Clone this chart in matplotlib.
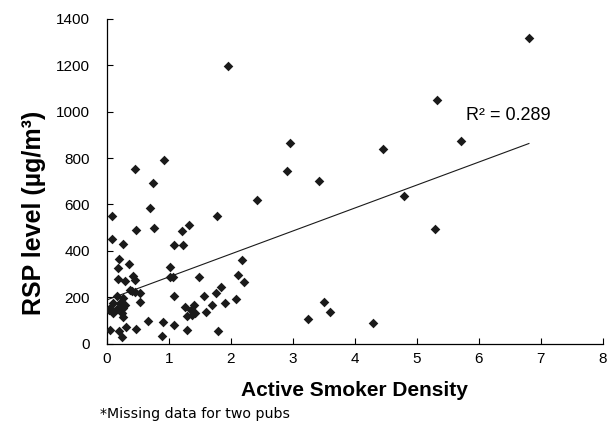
import matplotlib
matplotlib.use("Agg")
import matplotlib.pyplot as plt
import numpy as np

# Active smoker density (x) and RSP level (y)
x_density = [
    6.81, 5.33, 5.71, 4.46, 2.96, 2.90, 3.43, 4.80, 5.30, 2.42, 3.50, 3.60, 3.24, 4.30,
    1.96, 0.93, 0.46, 0.74, 0.70, 0.08, 1.78, 0.77, 0.47, 1.33, 1.21, 0.09, 0.26, 1.09,
    1.23, 0.20, 2.18, 0.18, 0.36, 1.02, 0.19, 0.29, 0.43, 0.46, 1.02, 1.07, 1.49, 2.11,
    2.21, 1.85, 0.38, 0.46, 0.54, 1.09, 1.57, 1.76, 2.08, 0.53, 1.91, 1.70, 1.41, 1.27,
    1.60, 1.42, 1.30, 1.36, 1.38, 0.66, 0.91, 1.09, 1.30, 1.79, 0.89,
    0.16, 0.27, 0.10, 0.21, 0.30, 0.05, 0.16, 0.27, 0.10, 0.24, 0.27, 0.04,
    0.05, 0.20, 0.31, 0.24, 0.48, 0.41,
]
y_rsp = [
    1319, 1049, 874, 838, 864, 745, 703, 636, 493, 620, 179, 134, 104, 87,
    1196, 792, 755, 692, 584, 552, 551, 498, 488, 513, 486, 449, 430, 427,
    427, 363, 360, 327, 344, 330, 279, 269, 290, 273, 285, 286, 289, 295,
    266, 243, 230, 222, 219, 207, 203, 216, 193, 181, 174, 168, 167, 157,
    136, 131, 118, 146, 124, 99, 91, 79, 60, 53, 32,
    205, 195, 173, 173, 166, 152, 147, 152, 130, 130, 115, 144,
    57, 53, 72, 28, 64, 228,
]

x_ticks = [0, 1, 2, 3, 4, 5, 6, 7, 8]
y_ticks = [0, 200, 400, 600, 800, 1000, 1200, 1400]
r2_label = "R\u00b2 = 0.289"
x_title = "Active Smoker Density"
y_title = "RSP level (\u00b5g/m\u00b3)"
footnote = "*Missing data for two pubs"

plt.rcParams['font.family'] = ['Liberation Sans', 'DejaVu Sans']

fig = plt.figure(figsize=(6.12, 4.30), dpi=100)
ax = fig.add_axes([106.7 / 612, 1 - 343.5 / 430, (602.7 - 106.7) / 612, (343.5 - 19) / 430])

xs = np.array(x_density)
ys = np.array(y_rsp)
ax.scatter(xs, ys, marker='D', s=24, color='#1a1a1a', linewidths=0, zorder=3)

slope, intercept = np.polyfit(xs, ys, 1)
xl = np.array([0.0, xs.max()])
ax.plot(xl, intercept + slope * xl, color='#1a1a1a', linewidth=0.8, zorder=2)

ax.set_xlim(0, 8)
ax.set_ylim(0, 1400)
ax.set_xticks(x_ticks)
ax.set_yticks(y_ticks)
ax.tick_params(direction='in', length=4, width=0.8, labelsize=11)
ax.tick_params(axis='x', pad=6)
ax.tick_params(axis='y', pad=12)
for s in ['top', 'right']:
    ax.spines[s].set_visible(False)
for s in ['left', 'bottom']:
    ax.spines[s].set_linewidth(0.9)

ax.text(5.8, 985, r2_label, fontsize=13, va='center', ha='left')

fig.text(354.7 / 612, 1 - 390 / 430, x_title, fontsize=15, fontweight='bold',
         ha='center', va='center')
fig.text(34 / 612, 1 - 213 / 430, y_title, fontsize=18, fontweight='bold',
         ha='center', va='center', rotation=90)
fig.text(100 / 612, 1 - 414 / 430, footnote, fontsize=10.2, family='DejaVu Sans',
         ha='left', va='center')

fig.savefig("out.png", dpi=100)
